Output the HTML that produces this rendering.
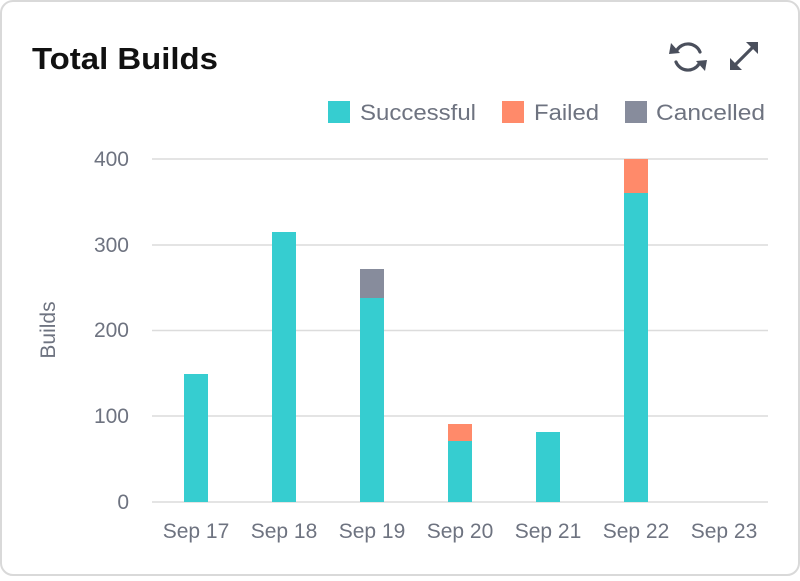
<!DOCTYPE html>
<html><head><style>
body{margin:0;background:#fff;width:800px;height:576px;overflow:hidden;font-family:"Liberation Sans",sans-serif}
</style></head><body>
<svg width="800" height="576" xmlns="http://www.w3.org/2000/svg" font-family="Liberation Sans, sans-serif">
<rect x="1" y="1" width="798" height="574" rx="12" fill="#fff" stroke="#d9d9d9" stroke-width="2"/>
<text x="32" y="69" font-size="31" font-weight="bold" fill="#111" textLength="186" lengthAdjust="spacingAndGlyphs">Total Builds</text>
<g stroke="#4a4f5c" stroke-width="3.2" fill="none" stroke-linecap="round">
<path d="M700 52 A13 13 0 0 0 677 50"/><path d="M676 62 A13 13 0 0 0 699 64"/>
</g>
<path d="M671 43 L680 53 L669 54Z" fill="#4a4f5c"/><path d="M705 71 L696 61 L707 60Z" fill="#4a4f5c"/>
<g stroke="#4a4f5c" stroke-width="3.2" fill="none"><path d="M733 67 L755 45"/></g>
<path d="M758 42 L758 54 L746 42Z M730 70 L730 58 L742 70Z" fill="#4a4f5c"/>
<rect x="328" y="101" width="22" height="22" fill="#36cdd0"/>
<text x="360" y="120" font-size="22" fill="#6e7380" textLength="116" lengthAdjust="spacingAndGlyphs">Successful</text>
<rect x="502" y="101" width="22" height="22" fill="#ff8a6a"/>
<text x="534" y="120" font-size="22" fill="#6e7380" textLength="65" lengthAdjust="spacingAndGlyphs">Failed</text>
<rect x="625" y="101" width="22" height="22" fill="#878c9c"/>
<text x="656" y="120" font-size="22" fill="#6e7380" textLength="109" lengthAdjust="spacingAndGlyphs">Cancelled</text>
<g stroke="#dcdcdc" stroke-width="1.5">
<line x1="152" x2="768" y1="159" y2="159"/><line x1="152" x2="768" y1="245" y2="245"/>
<line x1="152" x2="768" y1="330.5" y2="330.5"/><line x1="152" x2="768" y1="416" y2="416"/>
<line x1="152" x2="768" y1="502" y2="502"/></g>
<g font-size="21" fill="#6e7380" text-anchor="end">
<text x="129" y="166">400</text><text x="129" y="252">300</text><text x="129" y="337">200</text>
<text x="129" y="423">100</text><text x="129" y="509">0</text></g>
<text transform="translate(55 330) rotate(-90)" font-size="21" fill="#6e7380" text-anchor="middle">Builds</text>
<g fill="#36cdd0">
<rect x="184" y="374" width="24" height="128"/><rect x="272" y="232" width="24" height="270"/>
<rect x="360" y="298" width="24" height="204"/><rect x="448" y="441" width="24" height="61"/>
<rect x="536" y="432" width="24" height="70"/><rect x="624" y="193" width="24" height="309"/></g>
<rect x="360" y="269" width="24" height="29" fill="#878c9c"/>
<rect x="448" y="424" width="24" height="17" fill="#ff8a6a"/>
<rect x="624" y="159" width="24" height="34" fill="#ff8a6a"/>
<g font-size="21" fill="#6e7380" text-anchor="middle">
<text x="196" y="538">Sep 17</text><text x="284" y="538">Sep 18</text><text x="372" y="538">Sep 19</text>
<text x="460" y="538">Sep 20</text><text x="548" y="538">Sep 21</text><text x="636" y="538">Sep 22</text>
<text x="724" y="538">Sep 23</text></g>
</svg>
</body></html>
